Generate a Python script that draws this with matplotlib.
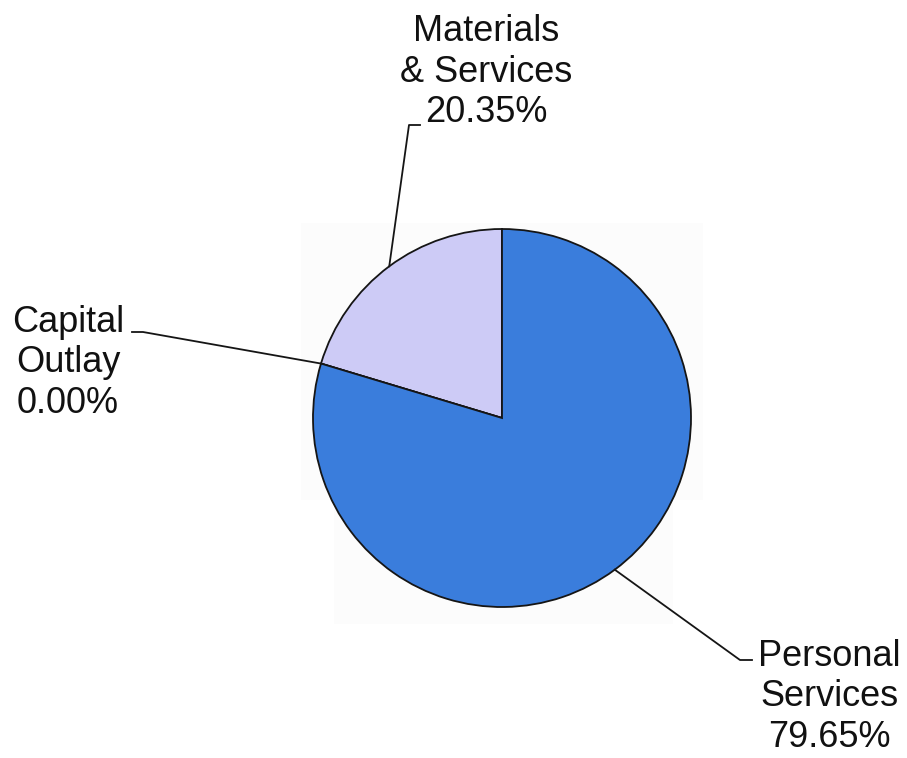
import numpy as np
import matplotlib.pyplot as plt
from matplotlib.patches import Rectangle

# budget split, percent of total
categories = ["Materials\n& Services", "Capital\nOutlay", "Personal\nServices"]
shares = [20.35, 0.00, 79.65]
colors = ["#cdcbf6", "#ffffff", "#3a7ddc"]

W, H = 907, 758
fig = plt.figure(figsize=(W / 100, H / 100), dpi=100)
ax = fig.add_axes([0, 0, 1, 1])

# faint plot-area backdrop
ax.add_patch(Rectangle((301, H - 500), 402, 277, facecolor="#fcfcfc", edgecolor="none", zorder=0))
ax.add_patch(Rectangle((334, H - 624), 339, 124, facecolor="#fcfcfc", edgecolor="none", zorder=0))

cx, cy, r = 502, H - 418, 189
wedges, _ = ax.pie(shares, colors=colors, startangle=90, counterclock=True,
                   center=(cx, cy), radius=r, frame=True,
                   wedgeprops=dict(edgecolor="#151515", linewidth=1.3))
ax.set_xlim(0, W)
ax.set_ylim(0, H)
ax.set_aspect("equal")
ax.axis("off")

# label text centre, leader elbow and leader end for each slice (pixel coords, y down)
label_pos = [(486, 72), (68, 363), (829, 697)]
elbows = [(409, 125), (143, 332), (740, 660)]
ends = [(420, 125), (132, 332), (752, 660)]

for w, cat, v, (tx, ty), (ex, ey), (fx, fy) in zip(wedges, categories, shares,
                                                     label_pos, elbows, ends):
    ang = np.deg2rad((w.theta1 + w.theta2) / 2)
    ax0 = cx + r * np.cos(ang)
    ay0 = cy + r * np.sin(ang)
    ax.plot([ax0, ex, fx], [ay0, H - ey, H - fy], color="#151515", lw=1.3, zorder=3)
    ax.text(tx, H - ty, f"{cat}\n{v:.2f}%", ha="center", va="center",
            fontsize=26, family="Liberation Sans", color="#111111",
            linespacing=1.2)

fig.savefig("out.png", dpi=100, facecolor="white")
